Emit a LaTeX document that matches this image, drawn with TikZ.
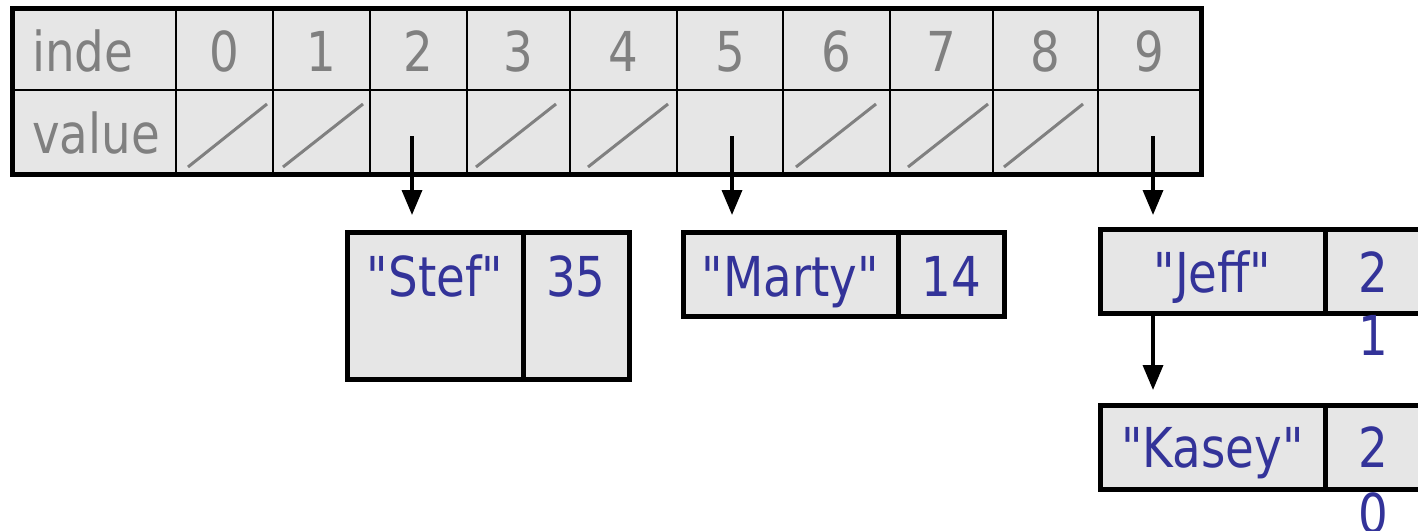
\documentclass[tikz,border=0pt]{standalone}
\usepackage{fontspec}
\setmainfont{DejaVu Sans}[FakeStretch=0.85, Ligatures=TeXOff]
\usetikzlibrary{arrows.meta,calc}
\definecolor{cellfill}{RGB}{230,230,230}
\definecolor{idxgray}{RGB}{128,128,128}
\definecolor{valblue}{RGB}{51,51,153}
\tikzset{
  tcell/.style={draw=black, line width=2.5pt, fill=cellfill, inner sep=0pt, outer sep=0pt},
  obox/.style={draw=black, line width=5pt, fill=cellfill, inner sep=0pt, outer sep=0pt},
  idx/.style={text=idxgray, inner sep=0pt, font=\fontsize{55}{60}\selectfont},
  val/.style={text=valblue, inner sep=0pt, font=\fontsize{55}{60}\selectfont},
  slash/.style={draw=idxgray, line width=3pt},
  ptr/.style={draw=black, line width=3.5pt, -{Triangle[length=25pt,width=20pt]}},
}
\begin{document}
\begin{tikzpicture}[x=1pt, y=-1pt]
\clip (0,0) rectangle (1418,530);
% header column
\node[tcell, minimum width=164pt, minimum height=82pt] (ih) at (94,49) {};
\node[tcell, minimum width=164pt, minimum height=84pt] (vh) at (94,132) {};
\node[idx, anchor=base west] (th) at (32,71) {inde};
\node[idx, anchor=base west] (tv) at (32,153) {value};
% index cells
\foreach \n/\l/\r in {0/176/273,1/273/370,2/370/467,3/467/570,4/570/677,5/677/783,6/783/890,7/890/993,8/993/1098,9/1098/1201} {
  \node[tcell, minimum width={(\r-\l)*1pt}, minimum height=82pt] (i\n) at ({(\l+\r)/2},49) {};
  \node[tcell, minimum width={(\r-\l)*1pt}, minimum height=84pt] (v\n) at ({(\l+\r)/2},132) {};
  \node[idx, anchor=base] (t\n) at ({(\l+\r)/2},71) {\n};
}
\draw[line width=5pt] (ih.north west) rectangle (v9.south east);
% null slashes
\draw[slash] (188,167) -- (267,104);
\draw[slash] (283,167) -- (363,104);
\draw[slash] (476,167) -- (556,104);
\draw[slash] (588,167) -- (668,104);
\draw[slash] (796,167) -- (876,104);
\draw[slash] (908,167) -- (988,104);
\draw[slash] (1004,167) -- (1083,104);
% objects
\node[obox, minimum width=176pt, minimum height=147pt] (stefname) at (435,305.5) {};
\node[obox, minimum width=106pt, minimum height=147pt] (stefage) at (576,305.5) {};
\node[val, anchor=base] (stefT) at (435,296) {"Stef"};
\node[val, anchor=base] (stefA) at (576,296) {35};

\node[obox, minimum width=215pt, minimum height=84pt] (martyname) at (790.5,274) {};
\node[obox, minimum width=106pt, minimum height=84pt] (martyage) at (951,274) {};
\node[val, anchor=base] (martyT) at (790.5,296) {"Marty"};
\node[val, anchor=base] (martyA) at (951,296) {14};

\node[obox, minimum width=225pt, minimum height=84pt] (jeffname) at (1212.5,271) {};
\node[obox, minimum width=110pt, minimum height=84pt] (jeffage) at (1380,271) {};
\node[val, anchor=base] (jeffT) at (1212.5,292) {"Jeff"};
\node[val, anchor=base] (jeffA) at (1373,292) {2};
\node[val, anchor=base] (jeffB) at (1373,355) {1};

\node[obox, minimum width=225pt, minimum height=84pt] (kaseyname) at (1212.5,447) {};
\node[obox, minimum width=110pt, minimum height=84pt] (kaseyage) at (1380,447) {};
\node[val, anchor=base] (kaseyT) at (1212.5,467) {"Kasey"};
\node[val, anchor=base] (kaseyA) at (1373,467) {2};
\node[val, anchor=base] (kaseyB) at (1373,533) {0};
% pointers
\coordinate (a2) at ([xshift=-6.5pt,yshift=-4pt]v2.center);
\coordinate (a5) at ([xshift=2pt,yshift=-4pt]v5.center);
\coordinate (a9) at ([xshift=3.5pt,yshift=-4pt]v9.center);
\coordinate (aj) at ([xshift=-59.5pt]jeffname.south);
\draw[ptr, shorten >=17pt] (a2) -- (a2 |- stefname.north);
\draw[ptr, shorten >=17pt] (a5) -- (a5 |- martyname.north);
\draw[ptr, shorten >=14pt] (a9) -- (a9 |- jeffname.north);
\draw[ptr, shorten >=15pt] (aj) -- (aj |- kaseyname.north);
\end{tikzpicture}
\end{document}
